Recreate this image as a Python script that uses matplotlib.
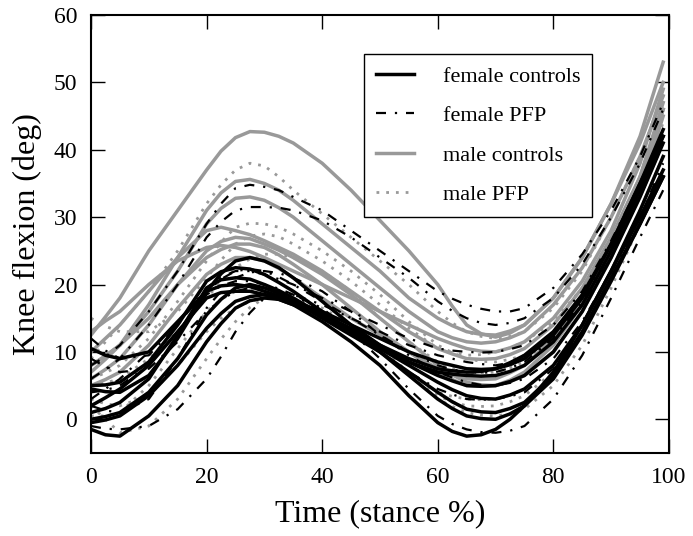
import matplotlib.pyplot as plt

plt.rcParams['font.family'] = ['Liberation Serif', 'DejaVu Serif']

stance = [0, 2.5, 5, 10, 15, 20, 22.5, 25, 27.5, 30, 32.5, 35, 40, 45, 50, 55, 60,
          62.5, 65, 67.5, 70, 72.5, 75, 80, 85, 90, 95, 99]

female_controls = [
    [-1.5, -2.3, -2.5, 0.5, 5, 11.5, 14.2, 16.5, 17.6, 18, 17.8, 17, 14.5, 11.5, 8, 3.5, -0.5, -1.8, -2.5, -2.3, -1.5, 0, 2, 7, 14, 22, 30, 37],
    [4.5, 4.1, 4, 6.5, 12, 19, 21.6, 23.5, 24, 23.5, 22.5, 21, 17.5, 14, 11, 9, 7.5, 7.2, 7, 7.1, 7.5, 8.4, 9.5, 13, 18.5, 26, 35, 43],
    [1, 1.6, 2.5, 6, 12.5, 19.5, 20.7, 21, 20.8, 20, 19.1, 18, 15.5, 13, 10.5, 8, 5.5, 4.4, 3.5, 3.1, 3, 3.6, 4.5, 8, 14, 22, 31, 39],
    [0, 0.4, 1, 4, 9, 15.5, 17.8, 19.5, 20, 19.5, 18.7, 17.5, 15, 12.5, 10, 7, 4, 2.6, 1.5, 1.1, 1, 1.6, 2.5, 6.5, 13, 21, 29, 36],
    [10.5, 9.5, 9, 10, 14.5, 19, 19.8, 20, 19.7, 19, 18.3, 17.5, 16, 14, 12, 10, 8.5, 8, 7.5, 7.4, 7.5, 8.1, 9, 12.5, 18, 26, 35, 42],
    [2, 3.2, 4.5, 8, 13, 18, 18.8, 19, 19, 18.5, 17.8, 17, 15.5, 13.5, 11, 8.5, 6.5, 5.7, 5, 4.9, 5, 5.6, 6.5, 10, 16, 24, 33, 41],
    [5, 5.1, 5.5, 8.5, 14, 20.5, 21.9, 22.5, 22.3, 21.5, 20.3, 19, 16, 13, 10.5, 8.5, 7, 6.7, 6.5, 6.4, 6.5, 7.1, 8, 11.5, 17, 25, 34, 42],
    [-0.5, -0.1, 0.5, 3.5, 8, 13.5, 15.7, 17.5, 18.2, 18.5, 18.2, 17.5, 15.5, 13, 10, 6.5, 3, 1.6, 0.5, 0.1, 0, 0.8, 2, 6, 12.5, 20.5, 29, 36],
]

female_pfp = [
    [8, 9.3, 11, 16, 22, 29, 32, 34.3, 34.8, 34.5, 34, 33, 31, 28, 25, 22, 19, 17.9, 17, 16.4, 16, 16, 16.5, 19.5, 24.5, 31, 39, 47],
    [6, 7.4, 9, 14, 20, 27, 29.3, 31, 31.5, 31.5, 31.4, 31, 29.5, 27, 24, 21, 17.5, 16.1, 15, 14.3, 14, 14.3, 15, 18, 23, 30, 38, 46],
    [-1, -1.4, -1.5, -1, 1.5, 6, 9.3, 13, 15.8, 18, 18.6, 18.5, 16.5, 13, 9, 4.5, 0.5, -0.7, -1.5, -1.9, -2, -1.7, -1, 3, 9.5, 18, 27, 34],
    [3, 4.5, 6, 10, 14.5, 19, 20.8, 22, 22.3, 22, 21.1, 20, 17.5, 15, 12.5, 10, 8, 7.4, 7, 6.9, 7, 7.6, 8.5, 12, 17.5, 25, 34, 42],
    [12, 10.2, 9, 9.5, 14, 19.5, 21.1, 22, 22, 21.5, 20.8, 20, 18, 16, 14, 12, 10.5, 10.2, 10, 9.9, 10, 10.4, 11, 14, 19, 26.5, 35, 43],
    [4, 4.3, 5, 8, 13, 18.5, 19.8, 20.5, 20.5, 20, 19.4, 18.5, 16, 13, 10, 7, 4.5, 3.7, 3, 2.9, 3, 3.4, 4, 7.5, 13, 21, 30, 38],
    [9, 7.8, 7, 7.5, 11.5, 16, 17.7, 19, 19.5, 19.5, 19.1, 18.5, 17, 15, 13, 11, 9.5, 9, 8.5, 8.2, 8, 8.4, 9, 12, 17, 24, 33, 41],
    [2, 1.3, 1, 3, 9, 16.5, 19, 21, 21.8, 22, 21.7, 21, 19, 16, 12.5, 9.5, 7, 6.2, 5.5, 5.1, 5, 5.4, 6, 9, 14.5, 22, 31, 39],
]

male_controls = [
    [12.5, 15.2, 18, 25, 31, 37, 39.8, 41.8, 42.7, 42.6, 42, 41, 38, 34, 29.5, 25, 20, 16.8, 14, 12.7, 12.2, 12.8, 14, 18, 24, 32, 42, 53],
    [7, 8.9, 11, 17, 24, 31, 33.6, 35.3, 35.6, 35, 34, 32.5, 29, 25.5, 22, 18, 15, 13.9, 13, 12.6, 12.5, 13.1, 14, 18, 24, 32, 41, 50],
    [8, 9.4, 11, 16, 22, 29, 31.3, 32.8, 33, 32.5, 31.4, 30, 26.5, 23, 19.5, 16, 13, 12.1, 11.5, 11.3, 11.5, 12.1, 13, 17, 22.5, 30, 39, 48],
    [10, 12, 14, 19, 24, 28, 28.5, 28, 27.4, 26.5, 25.5, 24.5, 22, 19, 16, 13, 10.5, 9.7, 9, 8.9, 9, 9.6, 10.5, 14, 19.5, 27, 36, 46],
    [6, 7.4, 9, 14, 20, 25, 26.4, 27, 26.8, 26, 25.1, 24, 21.5, 18.5, 15, 11.5, 8, 6.6, 5.5, 5.1, 5, 5.6, 6.5, 10, 16, 24, 34, 45],
    [8, 9.4, 11, 15, 20, 24, 25.2, 26, 26, 25.5, 24.4, 23, 20, 16.5, 13, 10, 7, 5.9, 5, 4.9, 5, 5.8, 7, 11, 17, 25, 35, 46],
    [13, 14.6, 16, 20, 23.5, 25.5, 25.8, 25.5, 24.9, 24, 23, 22, 20, 18, 16, 14, 12, 11.2, 10.5, 10.1, 10, 10.6, 11.5, 15, 20.5, 28, 38, 49],
    [5, 5.9, 7, 11, 16.5, 21.5, 23, 24, 24, 23.5, 22.4, 21, 18, 15, 12.5, 10, 7.5, 6.7, 6, 5.9, 6, 6.9, 8, 12, 18, 26, 36, 47],
]

male_pfp = [
    [9, 11.5, 14, 19, 25, 32, 34.8, 37, 38, 37.6, 36, 34, 30.5, 27, 23.5, 20, 16, 14.3, 13, 12.3, 12, 12.3, 13, 16.5, 22, 30, 39, 48],
    [6, 6.9, 8, 12, 17.5, 23.5, 26.3, 28.5, 29.1, 29, 28.5, 27.5, 25, 22, 18.5, 14.5, 11, 9.9, 9, 8.6, 8.5, 8.9, 9.5, 13, 18.5, 26, 35, 44],
    [2, 0, -2, -1, 3, 9, 11.9, 14.5, 16.6, 18, 18.3, 18, 16.5, 14, 10.5, 6.5, 3, 1.9, 1, 0.6, 0.5, 0.8, 1.5, 5, 11, 19.5, 29, 37],
    [15, 13.8, 13, 13, 16, 21, 23.6, 26, 27.2, 27.5, 27.1, 26, 23.5, 20.5, 17, 13.5, 10.5, 9.9, 9.5, 9.6, 10, 10.6, 11.5, 14.5, 19.5, 27, 36, 45],
    [0.5, 0.5, 1, 5, 10.5, 16, 17.8, 19, 19.3, 19, 18.4, 17.5, 15.5, 13, 10, 6.5, 3.5, 2.6, 2, 1.9, 2, 2.6, 3.5, 7, 12.5, 20.5, 29, 37],
    [3, 2.3, 2, 3.5, 8, 13, 15, 16.5, 17.5, 18, 18, 17.5, 16, 13.5, 10.5, 7, 4, 3.4, 3, 2.9, 3, 3.6, 4.5, 8, 14, 22, 31, 39],
    [5, 5.4, 6, 9, 13, 18, 20.4, 22.5, 23.8, 24.5, 24.5, 24, 22, 19, 15, 11.5, 8.5, 7.6, 7, 6.9, 7, 7.6, 8.5, 12, 17.5, 25, 34, 43],
]

grey = '#999999'
dashdot = (0, (4.5, 4, 1, 4))
dotted = (0, (1, 2.5))

fig = plt.figure(figsize=(6.93, 5.36), dpi=100)
ax = fig.add_axes([0.1313, 0.1549, 0.834, 0.8171])

for i, y in enumerate(male_controls):
    ax.plot(stance, y, color=grey, lw=2.5, label="male controls" if i == 0 else None, zorder=2)
for i, y in enumerate(male_pfp):
    ax.plot(stance, y, color=grey, lw=2, ls=dotted, label="male PFP" if i == 0 else None, zorder=2)
for i, y in enumerate(female_controls):
    ax.plot(stance, y, color='k', lw=2.5, label="female controls" if i == 0 else None, zorder=3)
for i, y in enumerate(female_pfp):
    ax.plot(stance, y, color='k', lw=1.6, ls=dashdot, label="female PFP" if i == 0 else None, zorder=3)

ax.set_xlim(0, 100)
ax.set_ylim(-5, 60)
ax.set_xticks([0, 20, 40, 60, 80, 100])
ax.set_yticks([0, 10, 20, 30, 40, 50, 60])
ax.tick_params(direction='in', length=10, width=1, top=True, right=True, labelsize=17, pad=10)
for s in ax.spines.values():
    s.set_linewidth(1.5)

ax.set_xlabel("Time (stance %)", fontsize=23, labelpad=8)
ax.set_ylabel("Knee flexion (deg)", fontsize=23, labelpad=8)

h, l = ax.get_legend_handles_labels()
order = [l.index(n) for n in ["female controls", "female PFP", "male controls", "male PFP"]]
leg = ax.legend([h[k] for k in order], [l[k] for k in order], loc='upper left',
                bbox_to_anchor=(0.472, 0.911), borderaxespad=0, fontsize=16,
                fancybox=False, framealpha=1, edgecolor='k', handlelength=1.7,
                labelspacing=0.85, handletextpad=1.3, borderpad=0.55)
leg.get_frame().set_linewidth(1)

fig.savefig("out.png", dpi=100)
